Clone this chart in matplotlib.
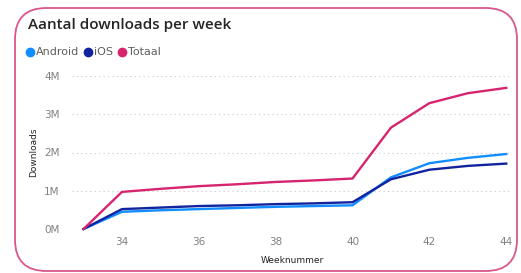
import matplotlib.pyplot as plt
from matplotlib.patches import FancyBboxPatch
from matplotlib.lines import Line2D

weeks = [33, 34, 35, 36, 37, 38, 39, 40, 41, 42, 43, 44]
android = [0, 0.45e6, 0.49e6, 0.52e6, 0.55e6, 0.58e6, 0.60e6, 0.62e6, 1.35e6, 1.72e6, 1.86e6, 1.96e6]
ios = [0, 0.52e6, 0.56e6, 0.60e6, 0.62e6, 0.65e6, 0.67e6, 0.70e6, 1.30e6, 1.55e6, 1.65e6, 1.71e6]
totaal = [0, 0.97e6, 1.05e6, 1.12e6, 1.17e6, 1.23e6, 1.27e6, 1.32e6, 2.65e6, 3.29e6, 3.55e6, 3.69e6]
series = [("Android", android, "#118DFF"), ("iOS", ios, "#12239E"), ("Totaal", totaal, "#D6246E")]
yticks = [0, 1e6, 2e6, 3e6, 4e6]
xticks = [34, 36, 38, 40, 42, 44]

W, H = 521, 273
fig = plt.figure(figsize=(W / 100, H / 100), dpi=100)
fig.patch.set_facecolor("white")

# card with pink rounded border, behind everything
card = FancyBboxPatch((15 / W, 1 - 271 / H), 502 / W, 263 / H,
                      boxstyle="round,pad=0,rounding_size=0.06",
                      transform=fig.transFigure, facecolor="white",
                      edgecolor="#D9578C", linewidth=1.3, mutation_aspect=W / H,
                      zorder=-10)
fig.patches.append(card)

fig.text(28 / W, 1 - 25 / H, "Aantal downloads per week", fontsize=11,
         color="#252423", va="center", ha="left", family="Open Sans", fontweight="semibold")

# legend row, items placed one after the other
renderer = fig.canvas.get_renderer()
x = 27
for name, _, color in series:
    fig.add_artist(Line2D([(x + 3) / W], [1 - 52 / H], marker="o", markersize=6,
                          color=color, linestyle="none", transform=fig.transFigure))
    t = fig.text((x + 9) / W, 1 - 52 / H, name, fontsize=8, color="#605E5C",
                 va="center", ha="left")
    x = t.get_window_extent(renderer).x1 + 6

ax = fig.add_axes([72 / W, 1 - 229 / H, 440 / W, 153 / H])
ax.set_facecolor("none")
for name, vals, color in series:
    ax.plot(weeks, vals, color=color, linewidth=1.7, clip_on=False)

ax.set_xlim(32.7, 44.15)
ax.set_ylim(0, 4e6)
ax.set_yticks(yticks)
ax.set_yticklabels([f"{int(v / 1e6)}M" for v in yticks])
ax.set_xticks(xticks)
ax.tick_params(length=0, labelsize=7.5, colors="#808080")
ax.tick_params(axis="y", pad=9)
ax.tick_params(axis="x", pad=6)
ax.grid(axis="y", linestyle=(0, (1, 3)), color="#C8C8C8", linewidth=0.8)
ax.set_axisbelow(True)
for s in ax.spines.values():
    s.set_visible(False)
ax.set_xlabel("Weeknummer", fontsize=6.5, color="#252423", labelpad=6)
ax.set_ylabel("Downloads", fontsize=6.5, color="#252423", labelpad=4)

fig.savefig("out.png", dpi=100)
